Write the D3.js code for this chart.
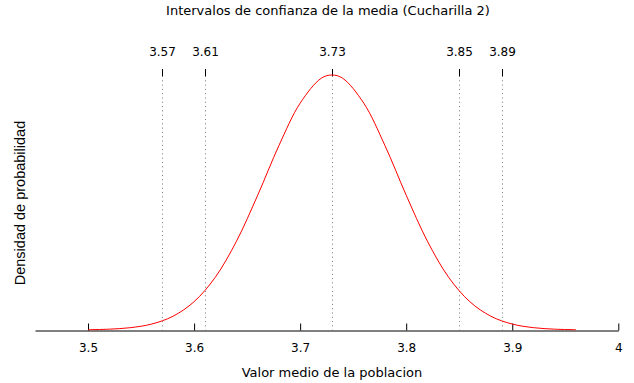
<!DOCTYPE html>
<html><head><meta charset="utf-8">
<script src="https://cdn.jsdelivr.net/npm/d3@7"></script>
<style>body{margin:0;background:#fff}svg{display:block}</style>
</head><body>
<script>
const title = "Intervalos de confianza de la media (Cucharilla 2)";
const xLabel = "Valor medio de la poblacion";
const yLabel = "Densidad de probabilidad";
const bottomTicks = [3.5, 3.6, 3.7, 3.8, 3.9, 4];
const intervalMarks = [3.57, 3.61, 3.73, 3.85, 3.89];
const curveX = [3.50,3.52,3.54,3.56,3.58,3.60,3.62,3.64,3.66,3.68,3.70,3.72,3.73,3.74,3.76,3.78,3.80,3.82,3.84,3.86,3.88,3.90,3.92,3.94,3.96];
const curveY = [0.007,0.021,0.059,0.150,0.345,0.714,1.33,2.24,3.40,4.65,5.72,6.35,6.43,6.35,5.72,4.65,3.40,2.24,1.33,0.714,0.345,0.150,0.059,0.021,0.007];

const W = 634, H = 383;
const svg = d3.select("body").append("svg").attr("width", W).attr("height", H);
const font = "DejaVu Sans";
const x = d3.scaleLinear().domain([3.45, 4.0]).range([35, 618.3]);
const y = d3.scaleLinear().domain([0, 6.43]).range([330, 75]);

// bottom axis
const xAxis = d3.axisBottom(x).tickValues(bottomTicks).tickFormat(d3.format("")).tickSizeInner(-7).tickSizeOuter(0).tickPadding(13);
const gx = svg.append("g").attr("transform", "translate(0,330.5)").call(xAxis);
gx.selectAll("text").attr("font-family", font).attr("font-size", 12).attr("fill", "#000");
gx.select(".domain").attr("stroke", "#000");
gx.selectAll(".tick line").attr("stroke", "#000");

// dotted interval lines
svg.append("g").selectAll("line").data(intervalMarks).join("line")
  .attr("x1", d => Math.round(x(d)) + 0.5).attr("x2", d => Math.round(x(d)) + 0.5)
  .attr("y1", 76).attr("y2", 330)
  .attr("stroke", "#777").attr("stroke-width", 1).attr("stroke-dasharray", "1,3.3");

// top ticks
const xTop = d3.axisTop(x).tickValues(intervalMarks).tickFormat(d3.format(".2f")).tickSizeInner(7).tickSizeOuter(0).tickPadding(13);
const gt = svg.append("g").attr("transform", "translate(0,76)").call(xTop);
gt.select(".domain").remove();
gt.selectAll(".tick").attr("transform", d => `translate(${Math.round(x(d)) + 0.5},0)`);
gt.selectAll(".tick line").attr("stroke", "#000");
gt.selectAll("text").attr("font-family", font).attr("font-size", 12).attr("fill", "#000");

// curve
const pts = curveX.map((v, i) => [v, curveY[i]]);
svg.append("path").datum(pts)
  .attr("d", d3.line().x(d => x(d[0])).y(d => y(d[1])).curve(d3.curveCatmullRom))
  .attr("fill", "none").attr("stroke", "#ff0000").attr("stroke-width", 1);

// title & labels
svg.append("text").attr("x", 328).attr("y", 15).attr("text-anchor", "middle")
  .attr("font-family", font).attr("font-size", 13).text(title);
svg.append("text").attr("x", 332).attr("y", 377).attr("text-anchor", "middle")
  .attr("font-family", font).attr("font-size", 13).text(xLabel);
svg.append("text").attr("transform", "translate(25,203) rotate(-90)").attr("text-anchor", "middle")
  .attr("font-family", "Liberation Sans").attr("font-size", 14.5).text(yLabel);
</script>
</body></html>
